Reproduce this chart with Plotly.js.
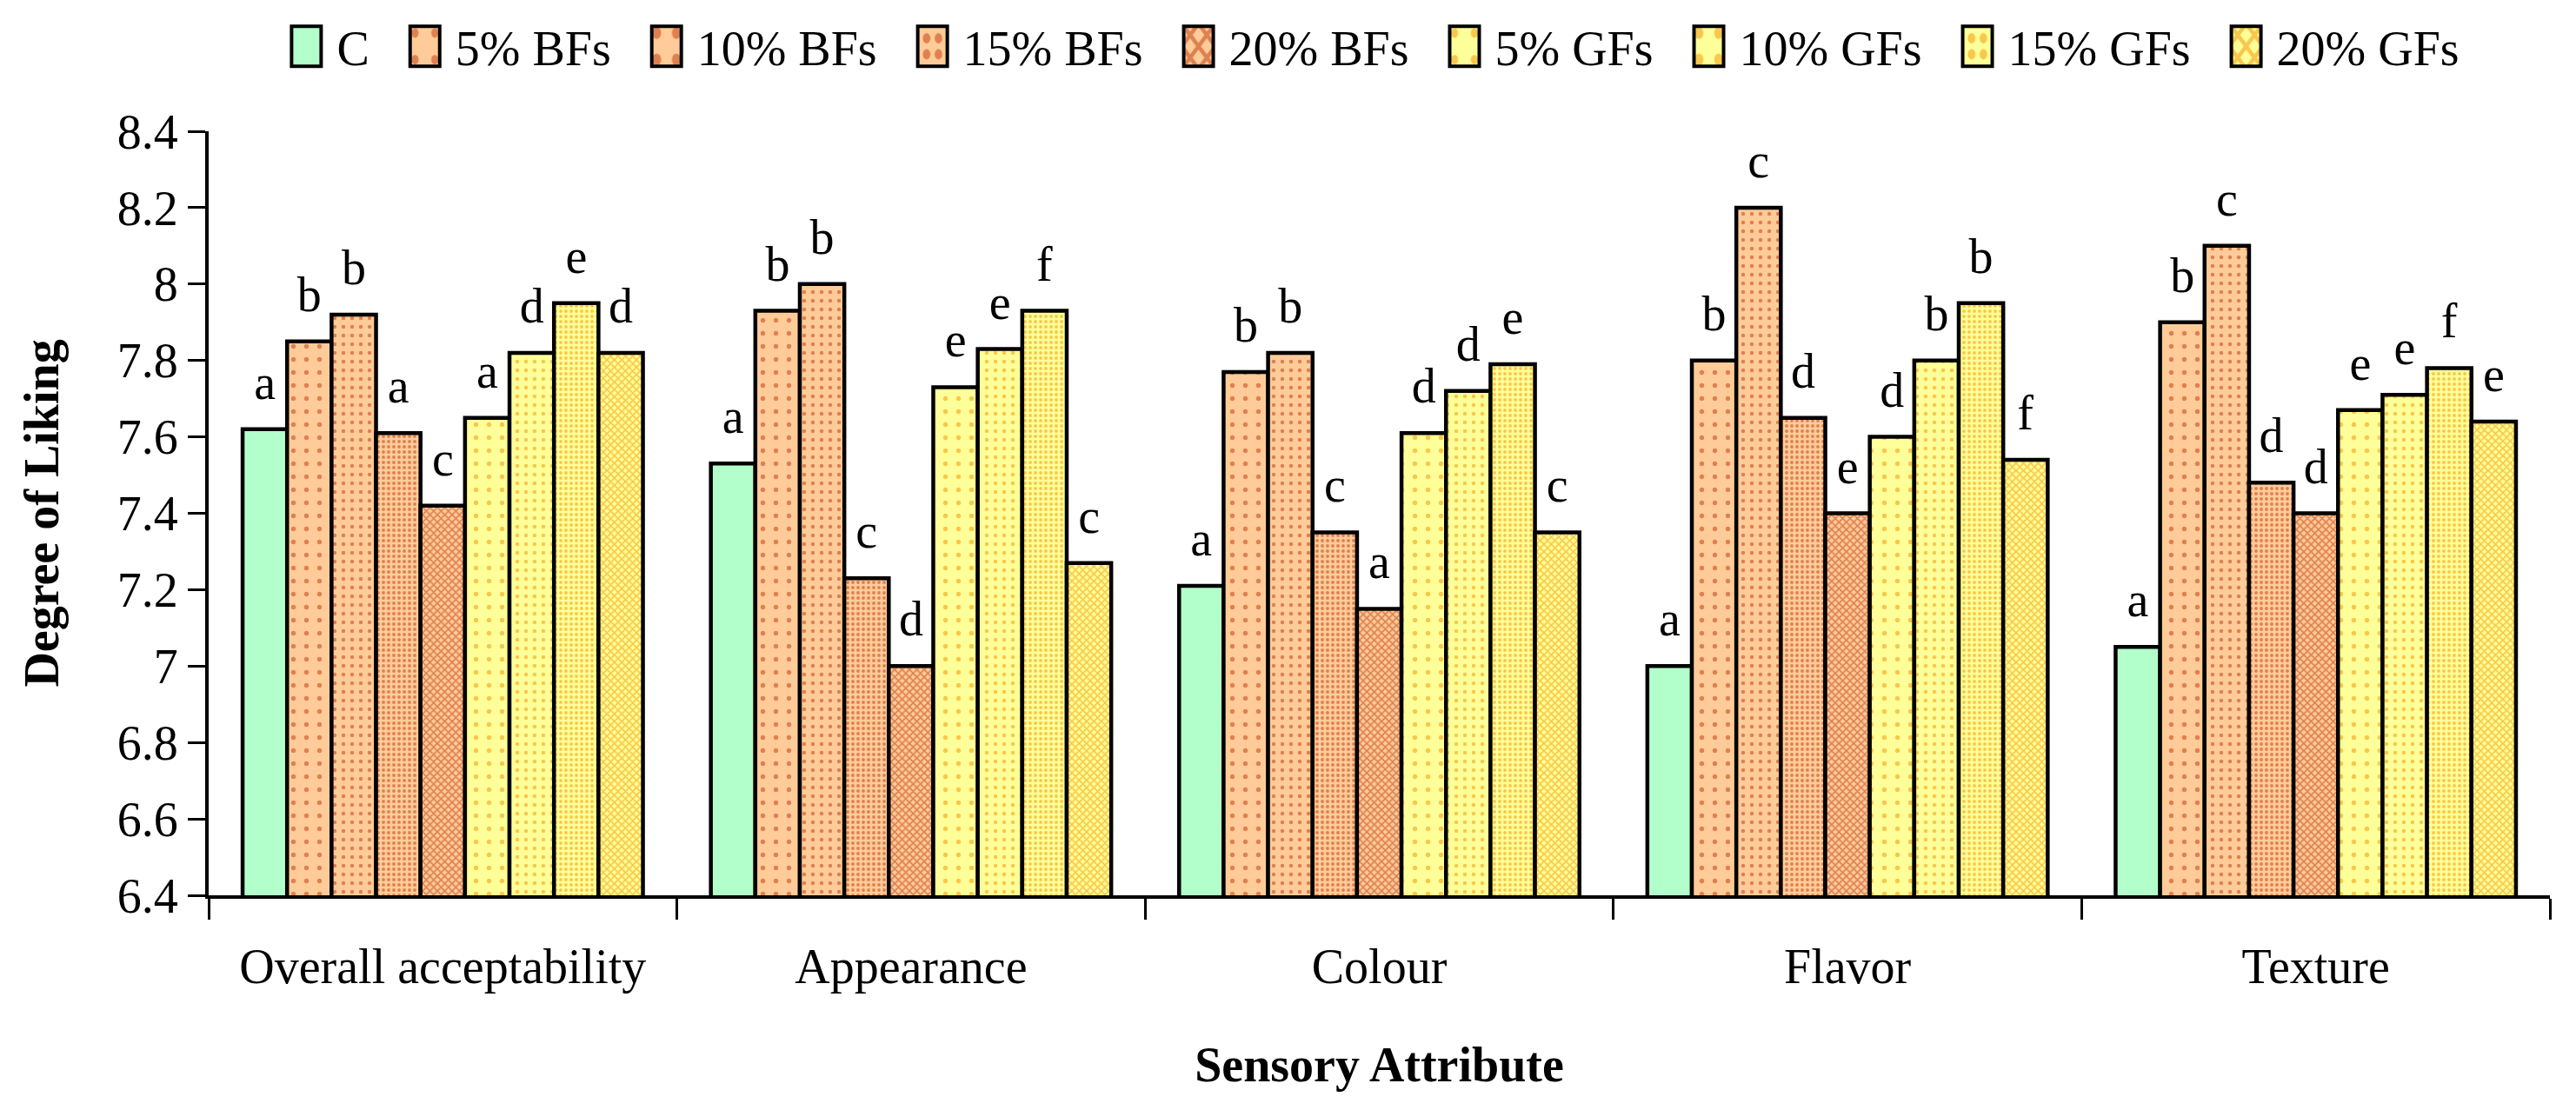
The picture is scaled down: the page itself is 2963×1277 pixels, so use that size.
<!DOCTYPE html>
<html>
<head>
<meta charset="utf-8">
<script src="https://cdn.plot.ly/plotly-3.0.1.min.js"></script>
<style>
  html, body { margin: 0; padding: 0; background: #fff; }
  #chart { width: 2963px; height: 1277px; }
</style>
</head>
<body>
<div id="chart"></div>
<script>
// ---- data ----
const categories = ["Overall acceptability", "Appearance", "Colour", "Flavor", "Texture"];
const seriesNames = ["C", "5% BFs", "10% BFs", "15% BFs", "20% BFs", "5% GFs", "10% GFs", "15% GFs", "20% GFs"];

const valC     = [7.62, 7.53, 7.21, 7.00, 7.05];
const valBF5   = [7.85, 7.93, 7.77, 7.80, 7.90];
const valBF10  = [7.92, 8.00, 7.82, 8.20, 8.10];
const valBF15  = [7.61, 7.23, 7.35, 7.65, 7.48];
const valBF20  = [7.42, 7.00, 7.15, 7.40, 7.40];
const valGF5   = [7.65, 7.73, 7.61, 7.60, 7.67];
const valGF10  = [7.82, 7.83, 7.72, 7.80, 7.71];
const valGF15  = [7.95, 7.93, 7.79, 7.95, 7.78];
const valGF20  = [7.82, 7.27, 7.35, 7.54, 7.64];

const letC     = ["a", "a", "a", "a", "a"];
const letBF5   = ["b", "b", "b", "b", "b"];
const letBF10  = ["b", "b", "b", "c", "c"];
const letBF15  = ["a", "c", "c", "d", "d"];
const letBF20  = ["c", "d", "a", "e", "d"];
const letGF5   = ["a", "e", "d", "d", "e"];
const letGF10  = ["d", "e", "d", "b", "e"];
const letGF15  = ["e", "f", "e", "b", "f"];
const letGF20  = ["d", "c", "c", "f", "e"];

const yTicks = [6.4, 6.6, 6.8, 7, 7.2, 7.4, 7.6, 7.8, 8, 8.2, 8.4];

// ---- styles ----
const FONT = "Liberation Serif, Times New Roman, serif";
const FS = 56;
const PEACH = "#FFCC99", YEL = "#FFFF99", MINT = "#B3FFCC";
const RED = "#C0330A", ORG = "#F29000";

const values = [valC, valBF5, valBF10, valBF15, valBF20, valGF5, valGF10, valGF15, valGF20];
const letters = [letC, letBF5, letBF10, letBF15, letBF20, letGF5, letGF10, letGF15, letGF20];
const styles = [
  { color: MINT, pattern: { shape: "" } },
  { color: PEACH, pattern: { shape: ".", fgcolor: RED, bgcolor: PEACH, size: 15, solidity: 0.10, fillmode: "overlay" } },
  { color: PEACH, pattern: { shape: ".", fgcolor: RED, bgcolor: PEACH, size: 10, solidity: 0.16, fillmode: "overlay" } },
  { color: PEACH, pattern: { shape: ".", fgcolor: RED, bgcolor: PEACH, size: 6,  solidity: 0.33, fillmode: "overlay" } },
  { color: PEACH, pattern: { shape: "x", fgcolor: RED, bgcolor: PEACH, size: 6,  solidity: 0.5,  fillmode: "overlay" } },
  { color: YEL, pattern: { shape: ".", fgcolor: ORG, bgcolor: YEL, size: 15, solidity: 0.10, fillmode: "overlay" } },
  { color: YEL, pattern: { shape: ".", fgcolor: ORG, bgcolor: YEL, size: 10, solidity: 0.16, fillmode: "overlay" } },
  { color: YEL, pattern: { shape: ".", fgcolor: ORG, bgcolor: YEL, size: 6,  solidity: 0.33, fillmode: "overlay" } },
  { color: YEL, pattern: { shape: "x", fgcolor: ORG, bgcolor: YEL, size: 6,  solidity: 0.5,  fillmode: "overlay" } }
];

const NBSP = "\u00a0\u00a0";

const traces = seriesNames.map((name, i) => ({
  type: "bar",
  name: name + NBSP,
  x: categories,
  y: values[i],
  text: letters[i],
  textposition: "outside",
  textfont: { family: FONT, size: FS, color: "#000" },
  cliponaxis: false,
  hoverinfo: "x+y+name",
  marker: {
    color: styles[i].color,
    pattern: styles[i].pattern,
    line: { color: "#000", width: 4.5 }
  }
}));

const layout = {
  width: 2963,
  height: 1277,
  paper_bgcolor: "#fff",
  plot_bgcolor: "#fff",
  font: { family: FONT, size: FS, color: "#000" },
  margin: { l: 240, r: 30, t: 151, b: 247 },
  barmode: "group",
  bargap: 0.145,
  bargroupgap: 0,
  showlegend: true,
  legend: {
    orientation: "h",
    x: 0.502, xanchor: "center",
    y: 0.958, yanchor: "middle",
    yref: "container",
    font: { family: FONT, size: FS, color: "#000" },
    itemwidth: 56,
    traceorder: "normal"
  },
  xaxis: {
    type: "category",
    range: [-0.5, 4.5],
    showline: true, linecolor: "#000", linewidth: 4,
    ticks: "outside", tickson: "boundaries", ticklen: 24, tickwidth: 3, tickcolor: "#000",
    ticklabelstandoff: 30,
    showgrid: false, zeroline: false,
    tickfont: { family: FONT, size: FS, color: "#000" },
    title: { text: "<b>Sensory Attribute</b>", font: { family: FONT, size: FS, color: "#000" }, standoff: 64 },
    automargin: false
  },
  yaxis: {
    range: [6.4, 8.4],
    tickvals: yTicks,
    ticktext: yTicks.map(String),
    showline: true, linecolor: "#000", linewidth: 4,
    ticks: "outside", ticklen: 20, tickwidth: 3, tickcolor: "#000",
    showgrid: false, zeroline: false,
    tickfont: { family: FONT, size: FS, color: "#000" },
    title: { text: "<b>Degree of Liking</b>", font: { family: FONT, size: FS, color: "#000" }, standoff: 50 },
    automargin: false
  }
};

Plotly.newPlot("chart", traces, layout, { staticPlot: true, displayModeBar: false }).then(gd => {
  // lift significance letters a little above the bar tops
  gd.querySelectorAll(".bartext").forEach(t => {
    const tr = t.getAttribute("transform") || "";
    t.setAttribute("transform", "translate(0,-20) " + tr);
  });
  // tall rectangular legend swatches placed just left of each label
  const BOX_W = 34, BOX_H = 46, GAP = 18;
  gd.querySelectorAll(".legend .traces").forEach(item => {
    const txt = item.querySelector("text.legendtext");
    const p = item.querySelector(".legendpoints path");
    if (!txt || !p) return;
    const tb = txt.getBoundingClientRect();
    const pb = p.getBoundingClientRect();
    const curCx = pb.left + pb.width / 2;
    const wantCx = tb.left - GAP - BOX_W / 2;
    const curCy = pb.top + pb.height / 2;
    const wantCy = tb.top + tb.height * 0.45;
    const sx = BOX_W / 12, sy = BOX_H / 12;
    const tr = p.getAttribute("transform") || "";
    p.setAttribute("transform", "translate(" + (wantCx - curCx) + "," + (wantCy - curCy) + ") " + tr + " scale(" + sx + "," + sy + ")");
    p.style.vectorEffect = "non-scaling-stroke";
    p.style.strokeWidth = "4px";
    p.style.stroke = "#000";
  });
});
</script>
</body>
</html>
